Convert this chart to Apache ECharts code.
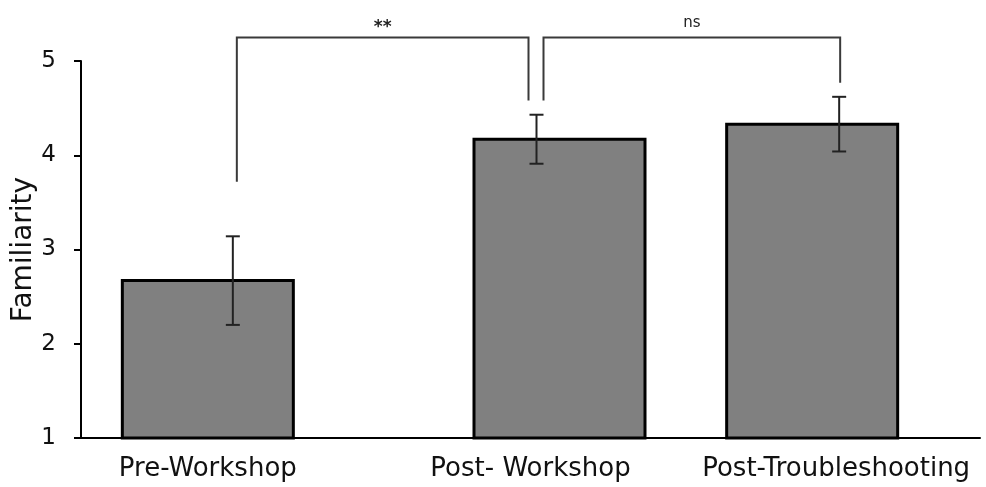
<!DOCTYPE html>
<html>
<head>
<meta charset="utf-8">
<script src="https://cdn.jsdelivr.net/npm/echarts@6/dist/echarts.min.js"></script>
<style>
html,body{margin:0;padding:0;background:#fff;}
#chart{width:986px;height:487px;}
</style>
</head>
<body>
<div id="chart"></div>
<script>
// ---- data ----
const categories = ['Pre-Workshop', 'Post- Workshop', 'Post-Troubleshooting'];
const means = [2.67, 4.17, 4.33];
const errors = [0.47, 0.26, 0.29];
const yTicks = [1, 2, 3, 4, 5];
const comparisons = [[0, 1], [1, 2]];
const comparisonLabels = ['**', 'ns'];
const bracketTop = [5.25, 5.25];
const bracketLegEnds = [[3.72, 4.58], [4.58, 4.77]];

// ---- layout (pixel nudges, not data) ----
const barNudge = [-23, 29, -18];
const errNudge = [2, 6, 9];
const legNudge = [[6, -2], [13, 10]];
const labelPad = [[0, 46, 0, 0], [0, 0, 0, 0], [0, 0, 0, 12]];
const barWidthPx = 171;
const FONT = 'DejaVu Sans';

const chart = echarts.init(document.getElementById('chart'));

const rich = {};
labelPad.forEach((p, i) => {
  rich['c' + i] = { fontFamily: FONT, fontSize: 26, color: '#111', padding: p };
});

const option = {
  animation: false,
  backgroundColor: '#ffffff',
  grid: { left: 81, right: 6, top: 61, bottom: 49, containLabel: false, outerBoundsMode: 'none' },
  xAxis: {
    type: 'category',
    data: categories,
    axisLine: { show: true, lineStyle: { color: '#000', width: 2 } },
    axisTick: { show: false },
    axisLabel: {
      color: '#111', fontFamily: FONT, fontSize: 26, margin: 18, interval: 0,
      formatter: function (v, i) { return '{c' + i + '|' + v + '}'; },
      rich: rich
    },
    splitLine: { show: false }
  },
  yAxis: {
    type: 'value',
    min: yTicks[0],
    max: yTicks[yTicks.length - 1],
    interval: 1,
    name: 'Familiarity',
    nameLocation: 'middle',
    nameGap: 43,
    nameMoveOverlap: false,
    nameTextStyle: { color: '#111', fontFamily: FONT, fontSize: 28 },
    axisLine: { show: true, lineStyle: { color: '#000', width: 2 } },
    axisTick: { show: true, inside: false, length: 7, lineStyle: { color: '#000', width: 2 } },
    axisLabel: { color: '#111', fontFamily: FONT, fontSize: 23, margin: 25 },
    splitLine: { show: false }
  },
  series: [
    {
      type: 'custom',
      name: 'bars',
      clip: false,
      data: means.map((m, i) => [i, m]),
      renderItem: function (params, api) {
        const i = api.value(0);
        const top = api.coord([i, api.value(1)]);
        const bottom = api.coord([i, yTicks[0]]);
        const cx = top[0] + barNudge[i];
        return {
          type: 'rect',
          shape: { x: cx - barWidthPx / 2, y: top[1], width: barWidthPx, height: bottom[1] - top[1] },
          style: { fill: '#808080', stroke: '#000', lineWidth: 3 }
        };
      },
      z: 2
    },
    {
      type: 'custom',
      name: 'errors',
      clip: false,
      data: means.map((m, i) => [i, m - errors[i], m + errors[i]]),
      renderItem: function (params, api) {
        const i = api.value(0);
        const lo = api.coord([i, api.value(1)]);
        const hi = api.coord([i, api.value(2)]);
        const x = lo[0] + errNudge[i];
        const cap = 7;
        const st = { stroke: '#222', lineWidth: 2 };
        return {
          type: 'group',
          children: [
            { type: 'line', shape: { x1: x, y1: lo[1], x2: x, y2: hi[1] }, style: st },
            { type: 'line', shape: { x1: x - cap, y1: lo[1], x2: x + cap, y2: lo[1] }, style: st },
            { type: 'line', shape: { x1: x - cap, y1: hi[1], x2: x + cap, y2: hi[1] }, style: st }
          ]
        };
      },
      z: 3
    },
    {
      type: 'custom',
      name: 'brackets',
      clip: false,
      data: comparisons.map((c, k) => [c[0], c[1], bracketTop[k], bracketLegEnds[k][0], bracketLegEnds[k][1], k]),
      renderItem: function (params, api) {
        const k = api.value(5);
        const a = api.value(0), b = api.value(1);
        const topA = api.coord([a, api.value(2)]);
        const topB = api.coord([b, api.value(2)]);
        const endA = api.coord([a, api.value(3)]);
        const endB = api.coord([b, api.value(4)]);
        const xa = topA[0] + legNudge[k][0];
        const xb = topB[0] + legNudge[k][1];
        const yt = topA[1];
        const st = { stroke: '#3a3a3a', lineWidth: 2, fill: null };
        const isStar = comparisonLabels[k].indexOf('*') >= 0;
        return {
          type: 'group',
          children: [
            { type: 'polyline', shape: { points: [[xa, endA[1]], [xa, yt], [xb, yt], [xb, endB[1]]] }, style: st },
            { type: 'text', style: { text: comparisonLabels[k], x: (xa + xb) / 2, y: isStar ? yt - 10 : yt - 14,
                align: 'center', verticalAlign: 'middle', fontFamily: FONT,
                fontSize: isStar ? 17 : 15, fontWeight: isStar ? 'bold' : 'normal', fill: '#222' } }
          ]
        };
      },
      z: 4
    }
  ]
};

chart.setOption(option);
</script>
</body>
</html>
